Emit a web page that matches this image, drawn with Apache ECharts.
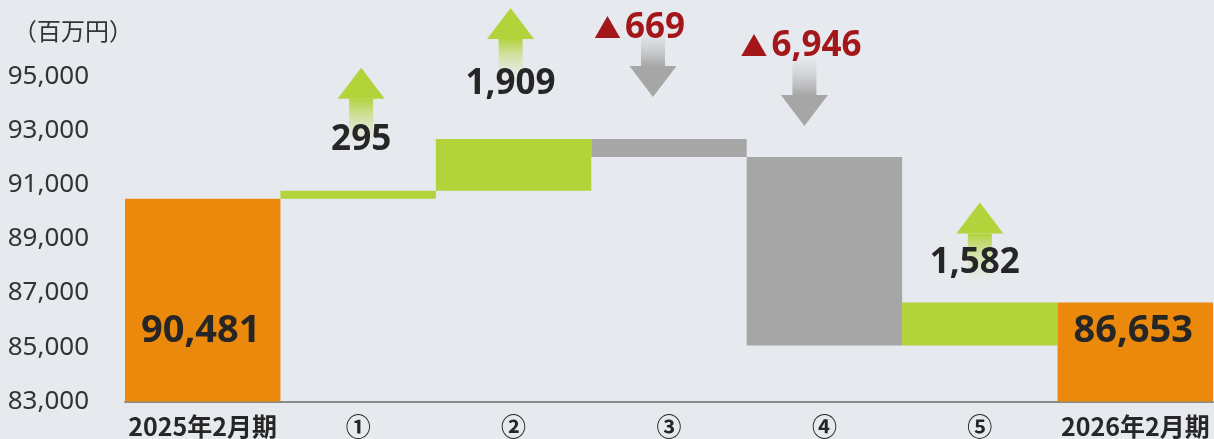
<!DOCTYPE html>
<html>
<head>
<meta charset="utf-8">
<script src="https://cdn.jsdelivr.net/npm/echarts@6/dist/echarts.min.js"></script>
<style>
  html, body { margin: 0; padding: 0; background: #e6e9ee; }
  #chart { width: 1214px; height: 439px; }
</style>
</head>
<body>
<div id="chart"></div>
<script>
const categories = ['2025年2月期', '①', '②', '③', '④', '⑤', '2026年2月期'];
const startTotal = 90481;
const endTotal = 86653;
const changes = [295, 1909, -669, -6946, 1582];
const yTicks = [83000, 85000, 87000, 89000, 91000, 93000, 95000];
const unitLabel = '（百万円）';

const FONT = "'Noto Sans', 'Noto Sans CJK JP', sans-serif";
const CJK = "'Noto Sans CJK JP', 'Noto Sans', sans-serif";
const ORANGE = '#EA890C';
const GREEN = '#B2D33A';
const GRAY = '#A6A6A6';
const RED = '#A3161A';
const INK = '#262626';

const yMin = yTicks[0];
const yStep = yTicks[1] - yTicks[0];
const yMax = yTicks[yTicks.length - 1] + yStep;

// floating bar ends: [index, low, high, kind, value]
const bars = [];
let level = startTotal;
bars.push([0, yMin, startTotal, 0, startTotal]);
changes.forEach((c, k) => {
  const next = level + c;
  bars.push([k + 1, Math.min(level, next), Math.max(level, next), c >= 0 ? 1 : 2, c]);
  level = next;
});
bars.push([categories.length - 1, yMin, endTotal, 0, endTotal]);

// where the arrow and label of each step sit, in px from the bar top (layout only)
const notePlace = [
  { dx: 3, tip: -123, len: 77, labelDx: 3, labelDy: -51 },
  { dx: -3, tip: -131, len: 72, labelDx: -3, labelDy: -55 },
  { dx: -16, tip: -42, len: 66, labelDx: -44, labelDy: -111 },
  { dx: -20, tip: -31, len: 69, labelDx: -53, labelDy: -111 },
  { dx: 0, tip: -100, len: 80, labelDx: -5, labelDy: -39 }
];

const fmt = (v) => Math.abs(v).toLocaleString('en-US');

function arrow(cx, tipY, len, up) {
  const headH = 31, headW = 47, shaftW = 24;
  const color = up ? GREEN : GRAY;
  const baseY = up ? tipY + headH : tipY - headH;
  const endY = up ? tipY + len : tipY - len;
  const shaftTop = Math.min(baseY, endY);
  const shaftH = Math.abs(endY - baseY);
  const fade = up ? 'rgba(232,236,226,0.2)' : 'rgba(226,228,232,0.4)';
  return [
    {
      type: 'rect',
      shape: { x: cx - shaftW / 2, y: shaftTop, width: shaftW, height: shaftH },
      style: {
        fill: new echarts.graphic.LinearGradient(0, 0, 0, 1, up
          ? [{ offset: 0, color: color }, { offset: 1, color: fade }]
          : [{ offset: 0, color: fade }, { offset: 1, color: color }])
      }
    },
    {
      type: 'polygon',
      shape: { points: [[cx, tipY], [cx - headW / 2, baseY], [cx + headW / 2, baseY]] },
      style: { fill: color }
    }
  ];
}

const chart = echarts.init(document.getElementById('chart'), null, { renderer: 'canvas' });

chart.setOption({
  backgroundColor: '#e6e9ee',
  animation: false,
  textStyle: { fontFamily: FONT },
  title: {
    text: unitLabel,
    left: 8,
    top: 14,
    textStyle: { fontFamily: CJK, fontSize: 24, fontWeight: 'normal', color: '#333' }
  },
  grid: { left: 125, right: 1, top: 22, bottom: 37.5 },
  xAxis: {
    type: 'category',
    data: categories,
    axisTick: { show: false },
    axisLine: { lineStyle: { color: '#8a8a8a', width: 2 } },
    axisLabel: {
      interval: 0,
      margin: 12,
      color: INK,
      fontSize: 25,
      fontWeight: 'bold',
      fontFamily: CJK
    }
  },
  yAxis: {
    type: 'value',
    min: yMin,
    max: yMax,
    interval: yStep,
    axisLine: { show: false },
    axisTick: { show: false },
    splitLine: { show: false },
    axisLabel: {
      showMaxLabel: false,
      margin: 36,
      color: '#333',
      fontSize: 26,
      padding: [0, 0, 7, 0],
      formatter: (v) => v.toLocaleString('en-US')
    }
  },
  series: [
    {
      type: 'custom',
      name: 'bars',
      data: bars,
      renderItem: (params, api) => {
        const i = api.value(0);
        const lo = api.coord([i, api.value(1)]);
        const hi = api.coord([i, api.value(2)]);
        const w = api.size([1, 0])[0];
        const kind = api.value(3);
        const fill = kind === 0 ? ORANGE : kind === 1 ? GREEN : GRAY;
        const children = [{
          type: 'rect',
          shape: { x: lo[0] - w / 2, y: hi[1], width: w, height: lo[1] - hi[1] },
          style: { fill: fill }
        }];
        if (kind === 0) {
          children.push({
            type: 'text',
            x: lo[0] - 2, y: lo[1] - 70,
            style: {
              text: fmt(api.value(4)), fill: INK,
              font: 'bold 38px ' + FONT, align: 'center', verticalAlign: 'middle'
            }
          });
        }
        return { type: 'group', children: children };
      }
    },
    {
      type: 'custom',
      name: 'notes',
      data: bars.filter((b) => b[3] !== 0),
      z: 5,
      renderItem: (params, api) => {
        const i = api.value(0);
        const top = api.coord([i, api.value(2)]);
        const v = api.value(4);
        const p = notePlace[params.dataIndex];
        const up = v >= 0;
        const children = arrow(top[0] + p.dx, top[1] + p.tip, p.len, up);
        const ly = top[1] + p.labelDy;
        if (up) {
          children.push({
            type: 'text', x: top[0] + p.labelDx, y: ly,
            style: { text: fmt(v), fill: INK, font: 'bold 35px ' + FONT, align: 'center', verticalAlign: 'middle' }
          });
        } else {
          const sx = top[0] + p.labelDx;
          children.push({
            type: 'text', x: sx - 4, y: ly + 1,
            style: { text: '▲', fill: RED, font: '27px ' + CJK, align: 'right', verticalAlign: 'middle' }
          });
          children.push({
            type: 'text', x: sx, y: ly,
            style: { text: fmt(v), fill: RED, font: 'bold 35px ' + FONT, align: 'left', verticalAlign: 'middle' }
          });
        }
        return { type: 'group', children: children };
      }
    }
  ]
});

window.addEventListener('resize', () => chart.resize());
</script>
</body>
</html>
